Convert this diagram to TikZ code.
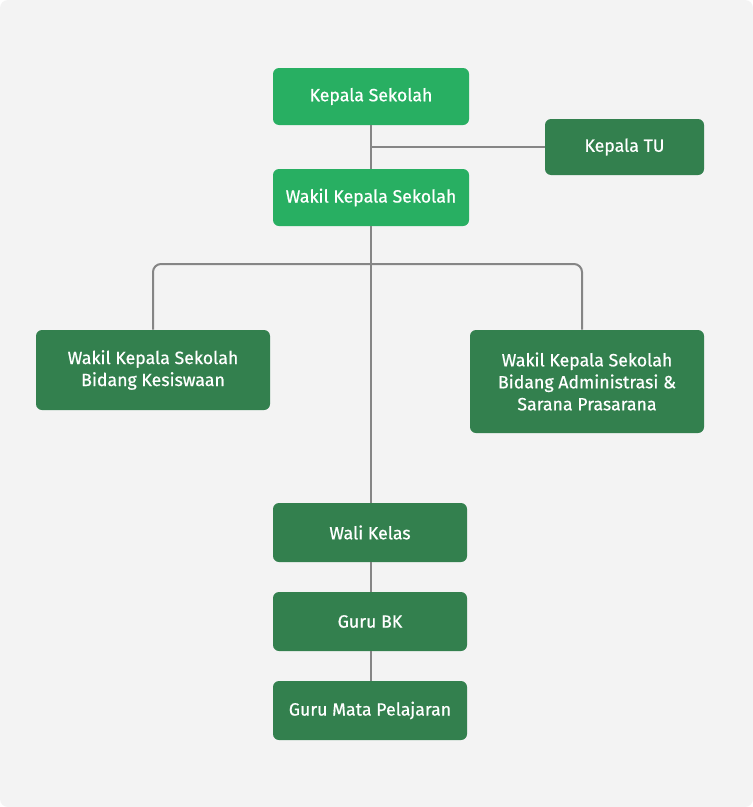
\documentclass[tikz,border=0pt]{standalone}
\usepackage{fontspec}
\setmainfont{Fira Sans}[FakeBold=0.6]
\usetikzlibrary{positioning}

\definecolor{bgGray}{HTML}{F3F3F3}
\definecolor{lightGreen}{HTML}{28AF62}
\definecolor{darkGreen}{HTML}{33804E}
\definecolor{lineGray}{HTML}{858585}

\tikzset{
  box/.style={rectangle, rounded corners=4.5pt, text=white, align=center,
    inner sep=0pt, font=\fontsize{13.3}{16.5}\selectfont},
  topbox/.style={box, fill=lightGreen, minimum width=147pt, minimum height=42.75pt},
  unitbox/.style={box, fill=darkGreen},
  link/.style={draw=lineGray, line width=1.5pt}
}

\begin{document}
\begin{tikzpicture}[x=0.75pt,y=-0.75pt]
% background
\fill[white] (0,0) rectangle (753,807);
\fill[bgGray, rounded corners=6pt] (0,0) rectangle (753,807);
\useasboundingbox (0,0) rectangle (753,807);

% top
\node[topbox] (ks) at (371,96.5) {Kepala Sekolah};
\node[unitbox, minimum width=119.25pt, minimum height=42pt] (tu) at (624.5,147) {Kepala TU};
\node[topbox] (wks) at (371,197.5) {Wakil Kepala Sekolah};

% bidang
\node[unitbox, minimum width=175.5pt, minimum height=60pt] (kes) at (153,370)
  {Wakil Kepala Sekolah\\Bidang Kesiswaan};
\node[unitbox, minimum width=175.5pt, minimum height=77.25pt] (adm) at (587,381.5)
  {Wakil Kepala Sekolah\\Bidang Administrasi \&\\Sarana Prasarana};
\coordinate (bar) at (371,264);

% guru
\foreach \name/\y/\txt in {wali/532.5/Wali Kelas, bk/621.5/Guru BK, gmp/710.5/Guru Mata Pelajaran}
  \node[unitbox, minimum width=145.5pt, minimum height=44.25pt] (\name) at (370,\y) {\txt};

% lines
\begin{scope}[on background layer/.try]
\draw[link] (ks.south) -- (wks.north);
\draw[link] (ks.south |- tu.west) -- (tu.west);
\draw[link] (wks.south -| ks.south) -- (wali.north -| ks.south);
\draw[link, rounded corners=6pt] (kes.north) |- (bar) -| ([xshift=-3.75pt]adm.north);
\draw[link] (wali.south -| ks.south) -- (bk.north -| ks.south);
\draw[link] (bk.south -| ks.south) -- (gmp.north -| ks.south);
\end{scope}
\end{tikzpicture}
\end{document}
